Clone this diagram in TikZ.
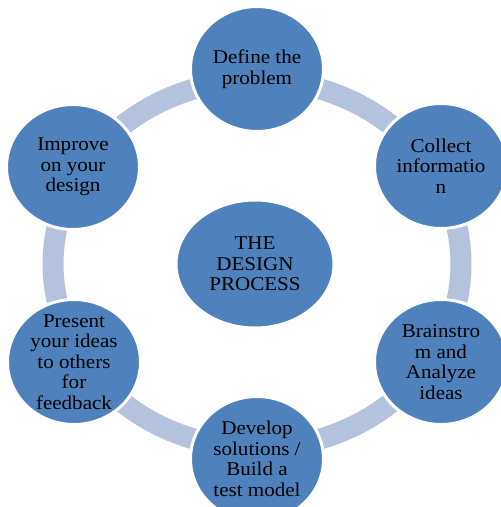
\documentclass[tikz,border=0pt]{standalone}
\usepackage{fontspec}
\setmainfont[FakeStretch=1.08]{Liberation Serif}
\usetikzlibrary{shapes.geometric}
\definecolor{bubbleblue}{RGB}{79,129,189}
\definecolor{ringblue}{RGB}{180,194,222}
\tikzset{
	bubble/.style={ellipse, fill=bubbleblue, draw=white, line width=3pt,
		minimum width=133pt, minimum height=125pt, inner sep=-15pt,
		text=black, align=center, font=\fontsize{19.5}{20.5}\selectfont},
	hub/.style={bubble, minimum width=158pt, minimum height=128pt}
}
\begin{document}
\begin{tikzpicture}[x=1pt, y=-1pt]
	\useasboundingbox (0, 0) rectangle (501, 507);
	\clip (0, 0) rectangle (501, 507);
	\coordinate (mid) at (257, 264);
	% ring behind the steps
	\draw[ringblue, line width=21pt] (mid) ellipse [x radius=204, y radius=184];
	\node[hub] (process) at (255, 264) {THE\\DESIGN\\PROCESS};
	\node[bubble] (define) at (257, 69) {Define the\\problem};
	\node[bubble] (collect) at (441, 166) {Collect\\informatio\\n};
	\node[bubble] (brainstorm) at (441, 362) {Brainstro\\m and\\Analyze\\ideas};
	\node[bubble] (develop) at (257, 459) {Develop\\solutions /\\Build a\\test model};
	\node[bubble] (present) at (74, 362) {Present\\your ideas\\to others\\for\\feedback};
	\node[bubble] (improve) at (73, 167) {Improve\\on your\\design};
\end{tikzpicture}
\end{document}
